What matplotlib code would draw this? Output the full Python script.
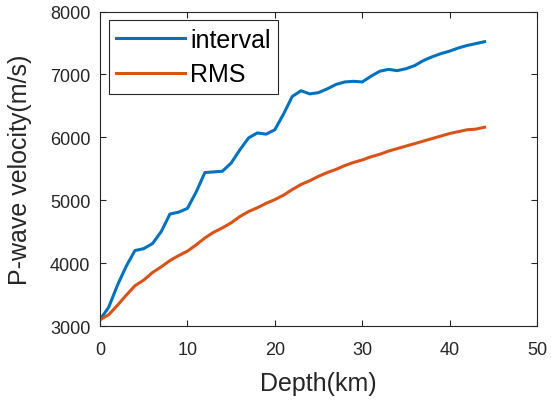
import matplotlib
matplotlib.use("Agg")
import matplotlib.pyplot as plt

plt.rcParams['font.family'] = ['Liberation Sans', 'DejaVu Sans']

depth = list(range(0, 45))
v_interval = [3100, 3300, 3650, 3950, 4200, 4230, 4310, 4500, 4780, 4810,
              4870, 5130, 5440, 5450, 5460, 5590, 5800, 5990, 6070, 6050,
              6120, 6370, 6650, 6740, 6690, 6710, 6770, 6840, 6880, 6890,
              6880, 6970, 7050, 7080, 7060, 7090, 7140, 7220, 7280, 7330,
              7370, 7420, 7460, 7490, 7520]
v_rms = [3100, 3180, 3330, 3490, 3640, 3730, 3850, 3940, 4040, 4120,
         4190, 4290, 4400, 4490, 4560, 4640, 4740, 4820, 4880, 4950,
         5010, 5080, 5170, 5250, 5310, 5380, 5440, 5490, 5550, 5600,
         5640, 5690, 5730, 5780, 5820, 5860, 5900, 5940, 5980, 6020,
         6060, 6090, 6120, 6130, 6160]

dark = '#262626'

fig = plt.figure(figsize=(5.51, 4.10), dpi=100)
ax = fig.add_axes([0.1815, 0.2024, 0.7931, 0.7671])
ax.plot(depth, v_interval, color='#0072BD', lw=2.2, label='interval')
ax.plot(depth, v_rms, color='#D95319', lw=2.2, label='RMS')

ax.set_xlim(0, 50)
ax.set_ylim(3000, 8000)
ax.set_xticks(range(0, 51, 10))
ax.set_yticks(range(3000, 8001, 1000))
ax.tick_params(direction='in', length=4, width=0.8, top=True, right=True,
               labelsize=13, colors=dark)
ax.tick_params(axis='x', pad=11)
ax.tick_params(axis='y', pad=7)
for s in ax.spines.values():
    s.set_color(dark)
    s.set_linewidth(0.8)

ax.set_xlabel('Depth(km)', fontsize=18, color=dark, labelpad=9)
ax.set_ylabel('P-wave velocity(m/s)', fontsize=18, color=dark, labelpad=13)

leg = ax.legend(loc='upper left', fontsize=18, handlelength=2.75,
                handletextpad=0.2, borderpad=0.3, labelspacing=0.42,
                borderaxespad=0.35, fancybox=False, framealpha=1)
leg.get_frame().set_edgecolor(dark)
leg.get_frame().set_linewidth(0.8)

fig.savefig('out.png', dpi=100)
